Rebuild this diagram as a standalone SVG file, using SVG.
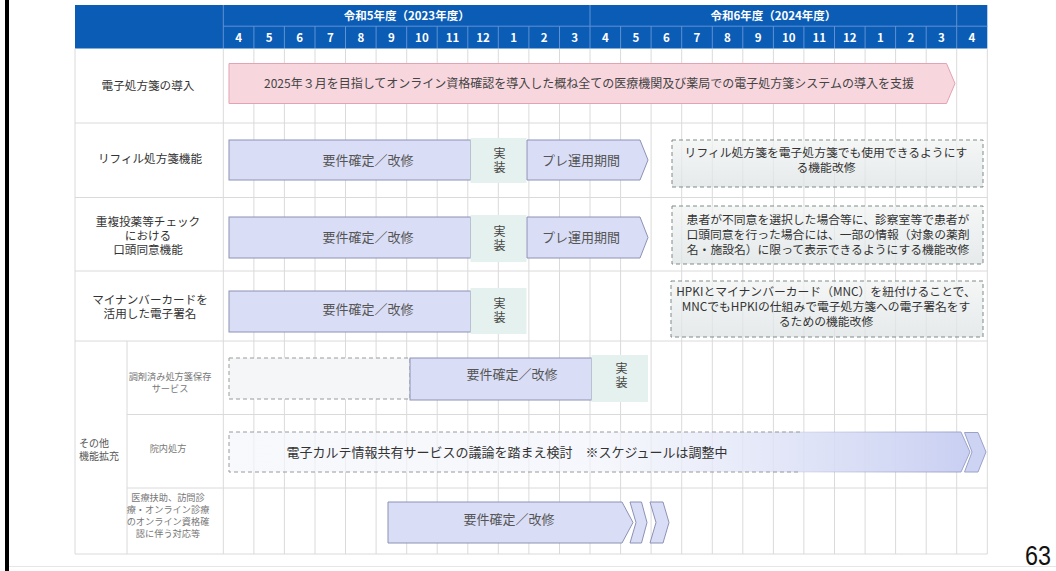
<svg xmlns="http://www.w3.org/2000/svg" width="1056" height="571" viewBox="0 0 1056 571">
<defs>
<style>
.hdr{fill:#0b5cb5}
.hsep{stroke:#5f92d4;stroke-width:1}
.ht{font-family:"Noto Sans CJK JP","Noto Sans",sans-serif;font-weight:bold;fill:#fff;font-size:11.5px;text-anchor:middle}
.grid{stroke:#dadada;stroke-width:1;fill:none}
.lbl{font-family:"Noto Sans CJK JP","Noto Sans",sans-serif;font-size:11.6px;fill:#333;text-anchor:middle}
.sub{font-family:"Noto Sans CJK JP","Noto Sans",sans-serif;font-size:9.2px;fill:#777;text-anchor:middle}
.grp{font-family:"Noto Sans CJK JP","Noto Sans",sans-serif;font-size:10px;fill:#555}
.bar{fill:#d9ddf6;stroke:#8c92b4;stroke-width:1}
.impl{fill:#e4f1ee}
.bt{font-family:"Noto Sans CJK JP","Noto Sans",sans-serif;font-size:13px;fill:#555;text-anchor:middle}
.it{font-family:"Noto Sans CJK JP","Noto Sans",sans-serif;font-size:12px;fill:#444;text-anchor:middle}
.vt{font-family:"Noto Sans CJK JP","Noto Sans",sans-serif;font-size:12px;fill:#444;text-anchor:middle;writing-mode:vertical-rl;letter-spacing:1.5px}
.dash{fill:url(#gGray);stroke:#7f8b8b;stroke-width:1;stroke-dasharray:4 3}
.nt{font-family:"Noto Sans CJK JP","Noto Sans",sans-serif;font-size:11.8px;fill:#333;text-anchor:middle}
</style>
<linearGradient id="gGray" x1="0" y1="0" x2="0" y2="1">
<stop offset="0" stop-color="#f2f4f4" stop-opacity="0.75"/>
<stop offset="1" stop-color="#dde3e3" stop-opacity="0.75"/>
</linearGradient>
<linearGradient id="gFade" gradientUnits="userSpaceOnUse" x1="229" y1="0" x2="970" y2="0">
<stop offset="0" stop-color="#f4f6fb" stop-opacity="0.7"/>
<stop offset="0.5" stop-color="#f2f4fb" stop-opacity="0.7"/>
<stop offset="1" stop-color="#c9cff2" stop-opacity="1"/>
</linearGradient>
<linearGradient id="gFadeS" gradientUnits="userSpaceOnUse" x1="229" y1="0" x2="970" y2="0">
<stop offset="0" stop-color="#9aa2c8" stop-opacity="0"/>
<stop offset="0.7" stop-color="#9aa2c8" stop-opacity="0"/>
<stop offset="1" stop-color="#9aa2c8" stop-opacity="1"/>
</linearGradient>
</defs>
<rect width="1056" height="571" fill="#fff"/>
<rect x="5" y="0" width="4" height="571" fill="#000"/>
<line x1="9" y1="566.5" x2="1056" y2="566.5" stroke="#e6e6e6" stroke-width="1"/>

<g id="header">
<rect class="hdr" x="75" y="5" width="912.3" height="43.5"/>
<line class="hsep" x1="223.3" y1="5" x2="223.3" y2="48.5"/>
<line class="hsep" x1="223.3" y1="26.2" x2="987.3" y2="26.2"/>
<line class="hsep" x1="590" y1="5" x2="590" y2="26.2"/>
<line class="hsep" x1="956.7" y1="5" x2="956.7" y2="26.2"/>
<g class="hsep">
<line x1="253.9" y1="26.2" x2="253.9" y2="48.5"/><line x1="284.4" y1="26.2" x2="284.4" y2="48.5"/>
<line x1="315" y1="26.2" x2="315" y2="48.5"/><line x1="345.5" y1="26.2" x2="345.5" y2="48.5"/>
<line x1="376.1" y1="26.2" x2="376.1" y2="48.5"/><line x1="406.7" y1="26.2" x2="406.7" y2="48.5"/>
<line x1="437.2" y1="26.2" x2="437.2" y2="48.5"/><line x1="467.8" y1="26.2" x2="467.8" y2="48.5"/>
<line x1="498.3" y1="26.2" x2="498.3" y2="48.5"/><line x1="528.9" y1="26.2" x2="528.9" y2="48.5"/>
<line x1="559.5" y1="26.2" x2="559.5" y2="48.5"/><line x1="590" y1="26.2" x2="590" y2="48.5"/>
<line x1="620.6" y1="26.2" x2="620.6" y2="48.5"/><line x1="651.1" y1="26.2" x2="651.1" y2="48.5"/>
<line x1="681.7" y1="26.2" x2="681.7" y2="48.5"/><line x1="712.3" y1="26.2" x2="712.3" y2="48.5"/>
<line x1="742.8" y1="26.2" x2="742.8" y2="48.5"/><line x1="773.4" y1="26.2" x2="773.4" y2="48.5"/>
<line x1="803.9" y1="26.2" x2="803.9" y2="48.5"/><line x1="834.5" y1="26.2" x2="834.5" y2="48.5"/>
<line x1="865.1" y1="26.2" x2="865.1" y2="48.5"/><line x1="895.6" y1="26.2" x2="895.6" y2="48.5"/>
<line x1="926.2" y1="26.2" x2="926.2" y2="48.5"/><line x1="956.7" y1="26.2" x2="956.7" y2="48.5"/>
</g>
<text class="ht" x="406.7" y="20" font-size="12px">令和5年度（2023年度）</text>
<text class="ht" x="773.4" y="20" font-size="12px">令和6年度（2024年度）</text>
<g class="ht">
<text x="238.6" y="41.5">4</text><text x="269.1" y="41.5">5</text><text x="299.7" y="41.5">6</text>
<text x="330.3" y="41.5">7</text><text x="360.8" y="41.5">8</text><text x="391.4" y="41.5">9</text>
<text x="421.9" y="41.5">10</text><text x="452.5" y="41.5">11</text><text x="483.1" y="41.5">12</text>
<text x="513.6" y="41.5">1</text><text x="544.2" y="41.5">2</text><text x="574.7" y="41.5">3</text>
<text x="605.3" y="41.5">4</text><text x="635.9" y="41.5">5</text><text x="666.4" y="41.5">6</text>
<text x="697" y="41.5">7</text><text x="727.5" y="41.5">8</text><text x="758.1" y="41.5">9</text>
<text x="788.7" y="41.5">10</text><text x="819.2" y="41.5">11</text><text x="849.8" y="41.5">12</text>
<text x="880.3" y="41.5">1</text><text x="910.9" y="41.5">2</text><text x="941.5" y="41.5">3</text>
<text x="972" y="41.5">4</text>
</g>
</g>

<g id="grid" class="grid">
<line x1="75" y1="48.5" x2="75" y2="554"/>
<line x1="127" y1="341" x2="127" y2="554"/>
<line x1="223.3" y1="48.5" x2="223.3" y2="554"/>
<line x1="253.9" y1="48.5" x2="253.9" y2="554"/><line x1="284.4" y1="48.5" x2="284.4" y2="554"/>
<line x1="315" y1="48.5" x2="315" y2="554"/><line x1="345.5" y1="48.5" x2="345.5" y2="554"/>
<line x1="376.1" y1="48.5" x2="376.1" y2="554"/><line x1="406.7" y1="48.5" x2="406.7" y2="554"/>
<line x1="437.2" y1="48.5" x2="437.2" y2="554"/><line x1="467.8" y1="48.5" x2="467.8" y2="554"/>
<line x1="498.3" y1="48.5" x2="498.3" y2="554"/><line x1="528.9" y1="48.5" x2="528.9" y2="554"/>
<line x1="559.5" y1="48.5" x2="559.5" y2="554"/><line x1="590" y1="48.5" x2="590" y2="554"/>
<line x1="620.6" y1="48.5" x2="620.6" y2="554"/><line x1="651.1" y1="48.5" x2="651.1" y2="554"/>
<line x1="681.7" y1="48.5" x2="681.7" y2="554"/><line x1="712.3" y1="48.5" x2="712.3" y2="554"/>
<line x1="742.8" y1="48.5" x2="742.8" y2="554"/><line x1="773.4" y1="48.5" x2="773.4" y2="554"/>
<line x1="803.9" y1="48.5" x2="803.9" y2="554"/><line x1="834.5" y1="48.5" x2="834.5" y2="554"/>
<line x1="865.1" y1="48.5" x2="865.1" y2="554"/><line x1="895.6" y1="48.5" x2="895.6" y2="554"/>
<line x1="926.2" y1="48.5" x2="926.2" y2="554"/><line x1="956.7" y1="48.5" x2="956.7" y2="554"/>
<line x1="987.3" y1="48.5" x2="987.3" y2="554"/>
<line x1="75" y1="123" x2="987.3" y2="123"/>
<line x1="75" y1="197.5" x2="987.3" y2="197.5"/>
<line x1="75" y1="271" x2="987.3" y2="271"/>
<line x1="75" y1="341" x2="987.3" y2="341"/>
<line x1="127" y1="414.5" x2="987.3" y2="414.5"/>
<line x1="127" y1="488" x2="987.3" y2="488"/>
<line x1="75" y1="554" x2="987.3" y2="554"/>
</g>

<g id="row-intro">
<text class="lbl" x="148" y="89.5">電子処方箋の導入</text>
<path d="M229,63.5 H946.5 L955,83.5 L946.5,103.5 H229 Z" fill="#f8d6de" stroke="#e2a3b2" stroke-width="1"/>
<text class="it" x="589" y="87.5">2025年３月を目指してオンライン資格確認を導入した概ね全ての医療機関及び薬局での電子処方箋システムの導入を支援</text>
</g>

<g id="row-refill">
<text class="lbl" x="150" y="163">リフィル処方箋機能</text>
<rect class="bar" x="229" y="140" width="241.5" height="40"/>
<text class="bt" x="368" y="164.5">要件確定／改修</text>
<rect class="impl" x="470.5" y="138" width="56" height="45"/>
<text class="vt" x="499.5" y="161">実装</text>
<path class="bar" d="M527,140 H640 L648,160 L640,180 H527 Z"/>
<text class="bt" x="581" y="164.5">プレ運用期間</text>
<rect class="dash" x="672" y="140" width="311" height="47"/>
<text class="nt"><tspan x="826" y="157">リフィル処方箋を電子処方箋でも使用できるようにす</tspan><tspan x="826" y="172">る機能改修</tspan></text>
</g>

<g id="row-oral-consent">
<text class="lbl"><tspan x="148" y="225.5">重複投薬等チェック</tspan><tspan x="148" y="239.5">における</tspan><tspan x="148" y="253.5">口頭同意機能</tspan></text>
<rect class="bar" x="229" y="217" width="241.5" height="41"/>
<text class="bt" x="368" y="242">要件確定／改修</text>
<rect class="impl" x="470.5" y="215" width="56" height="47"/>
<text class="vt" x="499.5" y="239">実装</text>
<path class="bar" d="M527,217 H640 L648,237.5 L640,258 H527 Z"/>
<text class="bt" x="581" y="242">プレ運用期間</text>
<rect class="dash" x="672" y="206" width="311" height="58"/>
<text class="nt"><tspan x="828" y="223.5">患者が不同意を選択した場合等に、診察室等で患者が</tspan><tspan x="828" y="238.5">口頭同意を行った場合には、一部の情報（対象の薬剤</tspan><tspan x="828" y="253.5">名・施設名）に限って表示できるようにする機能改修</tspan></text>
</g>

<g id="row-mnc-sign">
<text class="lbl"><tspan x="150" y="304">マイナンバーカードを</tspan><tspan x="150" y="318">活用した電子署名</tspan></text>
<rect class="bar" x="229" y="291" width="241.5" height="41"/>
<text class="bt" x="368" y="314">要件確定／改修</text>
<rect class="impl" x="470.5" y="288" width="56" height="46"/>
<text class="vt" x="499.5" y="311">実装</text>
<rect class="dash" x="671" y="281" width="312" height="56"/>
<text class="nt"><tspan x="826" y="296">HPKIとマイナンバーカード（MNC）を紐付けることで、</tspan><tspan x="826" y="311">MNCでもHPKIの仕組みで電子処方箋への電子署名をす</tspan><tspan x="826" y="326">るための機能改修</tspan></text>
</g>

<g id="row-other">
<text class="grp"><tspan x="79" y="447">その他</tspan><tspan x="79" y="460">機能拡充</tspan></text>
</g>

<g id="row-dispensed-storage">
<text class="sub"><tspan x="170" y="379.5">調剤済み処方箋保存</tspan><tspan x="170" y="392">サービス</tspan></text>
<rect x="229" y="358" width="181" height="41" fill="#f4f6f8" stroke="#9a9a9a" stroke-width="1" stroke-dasharray="4 3"/>
<rect class="bar" x="410" y="358" width="181.5" height="42"/>
<text class="bt" x="512" y="378.5">要件確定／改修</text>
<rect class="impl" x="591.5" y="355" width="56.5" height="47"/>
<text class="vt" x="621.5" y="376">実装</text>
</g>

<g id="row-inhospital">
<text class="sub" x="168" y="452">院内処方</text>
<path d="M229,432 H961 L970,452 L961,472 H229 Z" fill="url(#gFade)" stroke="url(#gFadeS)" stroke-width="1"/>
<path d="M800,432 H229 V472 H800" fill="none" stroke="#9a9a9a" stroke-width="1" stroke-dasharray="4 3"/>
<path d="M964.5,432.5 H978 L986,452 L978,472 H964.5 L972,452 Z" fill="#cdd3f2" stroke="#9aa2c8" stroke-width="1"/>
<text font-family="'Noto Sans CJK JP','Noto Sans',sans-serif" font-size="13px" fill="#333" x="286.5" y="456.5">電子カルテ情報共有サービスの議論を踏まえ検討　※スケジュールは調整中</text>
</g>

<g id="row-medical-aid">
<text class="sub"><tspan x="168" y="501">医療扶助、訪問診</tspan><tspan x="168" y="513">療・オンライン診療</tspan><tspan x="168" y="525">のオンライン資格確</tspan><tspan x="168" y="537">認に伴う対応等</tspan></text>
<path class="bar" d="M388,502 H622 L633,522.5 L622,543 H388 Z"/>
<path class="bar" d="M630,502 H641.5 L647,522.5 L641.5,543 H630 L636,522.5 Z"/>
<path class="bar" d="M650,502 H663 L669,522.5 L663,543 H650 L656,522.5 Z"/>
<text class="bt" x="509" y="523.5">要件確定／改修</text>
</g>

<text x="1025" y="565" font-family="'Liberation Sans',Arial,sans-serif" font-size="27px" fill="#111" textLength="26" lengthAdjust="spacingAndGlyphs">63</text>
</svg>
